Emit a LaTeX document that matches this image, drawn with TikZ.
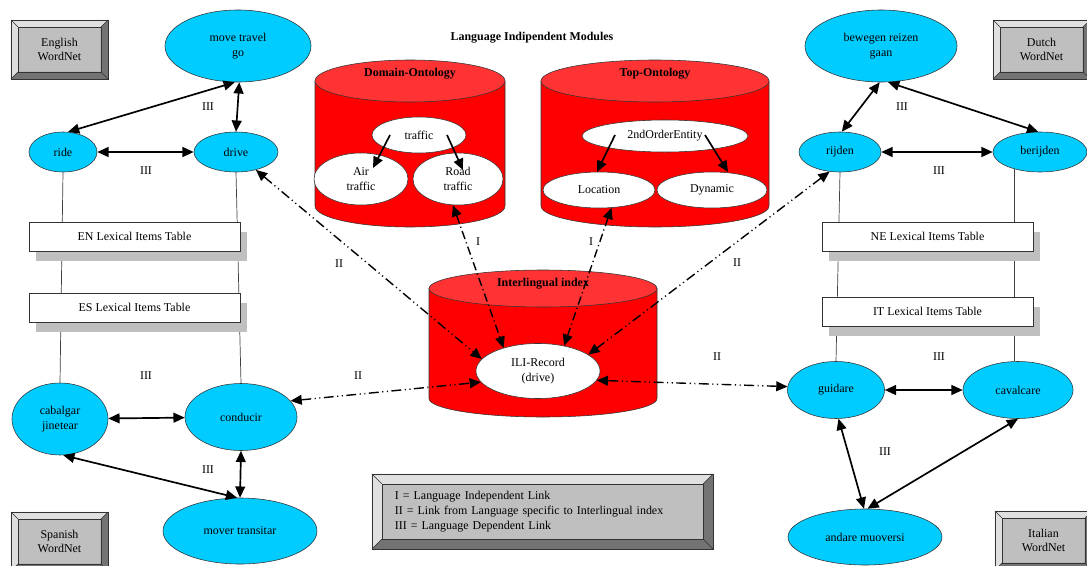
\documentclass[tikz,border=0pt]{standalone}
\usepackage{fontspec}
\setmainfont{Liberation Serif}
\usetikzlibrary{arrows.meta,positioning,calc,shapes.geometric,shadows}

\definecolor{wncyan}{HTML}{00CCFF}
\definecolor{dbred}{HTML}{FF0000}
\definecolor{dbtop}{HTML}{FF3333}

\tikzset{
  synset/.style={ellipse, draw=black!80, fill=wncyan, inner sep=0pt, align=center},
  concept/.style={ellipse, draw=black!80, fill=white, inner sep=0pt, align=center},
  lexitems/.style={rectangle, draw=black!80, fill=white, minimum width=5.275cm, minimum height=0.725cm,
    drop shadow={shadow xshift=0.175cm, shadow yshift=-0.25cm, fill=black!25, opacity=1}},
  bevel/.style={rectangle, draw=black!80, fill=black!25, inner sep=0pt, align=center,
    path picture={
      \path (path picture bounding box.south west) coordinate (bvsw)
            (path picture bounding box.north east) coordinate (bvne)
            (bvsw |- bvne) coordinate (bvnw)
            (bvsw -| bvne) coordinate (bvse);
      \fill[black!12] (bvsw) -- (bvnw) -- (bvne) -- ([shift={(-#1,-#1)}]bvne)
        -- ([shift={(#1,-#1)}]bvnw) -- ([shift={(#1,#1)}]bvsw) -- cycle;
      \fill[black!55] (bvsw) -- (bvse) -- (bvne) -- ([shift={(-#1,-#1)}]bvne)
        -- ([shift={(-#1,#1)}]bvse) -- ([shift={(#1,#1)}]bvsw) -- cycle;
      \draw[black!80] ([shift={(#1,#1)}]bvsw) rectangle ([shift={(-#1,-#1)}]bvne);
      \draw[black!80] (bvsw) -- ++(#1,#1) (bvnw) -- ++(#1,-#1)
        (bvne) -- ++(-#1,-#1) (bvse) -- ++(-#1,#1);
    }},
  bevel/.default=5pt,
  title/.style={font=\fontsize{8.5}{10.5}\selectfont\bfseries},
  deplink/.style={<->, line width=1.2pt},
  isa/.style={->, line width=1.2pt},
  ililink/.style={<->, line width=1pt, dash pattern=on 7pt off 2.5pt on 0.8pt off 2.5pt on 0.8pt off 2.5pt},
  toplink/.style={<->, line width=1pt, dash pattern=on 6pt off 2.5pt on 0.8pt off 2.5pt},
  lexline/.style={black!75, line width=0.5pt}
}

\begin{document}
\begin{tikzpicture}[x=0.025cm, y=-0.025cm, font=\fontsize{8.5}{10.5}\selectfont,
    >={Triangle[length=8pt,width=7pt]}]
\useasboundingbox (0,0) rectangle (1087,566);

% databases
\foreach \cx/\rx/\ty/\ry/\by in {410/95/81/21/206, 655/114/81/21/206, 543/114/288.5/18.5/398.5}{
  \filldraw[fill=dbred, draw=black!80] (\cx-\rx,\ty) -- (\cx-\rx,\by)
    arc [start angle=180, end angle=0, x radius=\rx, y radius=\ry] -- (\cx+\rx,\ty) -- cycle;
  \filldraw[fill=dbtop, draw=black!80] (\cx,\ty) ellipse [x radius=\rx, y radius=\ry];
}
\node[title] (modules) at (532,38) {Language Indipendent Modules};
\node[title] (domain) at (410,74) {Domain-Ontology};
\node[title] (top) at (655,74) {Top-Ontology};
\node[title] (index) at (543,284) {Interlingual index};

% language independent concepts
\node[concept, minimum width=2.35cm, minimum height=1.3cm] (air) at (361,179) {Air\\traffic};
\node[concept, minimum width=2.25cm, minimum height=1.3cm] (road) at (458,179) {Road\\traffic};
\node[concept, minimum width=2.35cm, minimum height=0.9cm] (traffic) at (419,135) {traffic};
\node[concept, minimum width=4.15cm, minimum height=0.8cm] (entity) at (665,136) {2ndOrderEntity};
\node[concept, minimum width=2.8cm, minimum height=0.9cm] (location) at (599,190) {Location};
\node[concept, minimum width=2.75cm, minimum height=0.9cm] (dynamic) at (712,190) {Dynamic};
\node[concept, minimum width=3.1cm, minimum height=1.375cm] (ili) at (538,371) {ILI-Record\\(drive)};

% wordnet synsets
\node[synset, minimum width=3.65cm, minimum height=1.8cm] (move) at (238,46) {move travel\\go};
\node[synset, minimum width=1.7cm, minimum height=1cm] (ride) at (63,152) {ride};
\node[synset, minimum width=2.1cm, minimum height=1cm] (drive) at (236,152) {drive};
\node[synset, minimum width=3.8cm, minimum height=1.8cm] (bewegen) at (881,46) {bewegen reizen\\gaan};
\node[synset, minimum width=2.05cm, minimum height=1cm] (rijden) at (840,152) {rijden};
\node[synset, minimum width=2.35cm, minimum height=1cm] (berijden) at (1040,152) {berijden};
\node[synset, minimum width=2.4cm, minimum height=1.8cm] (cabalgar) at (60,419) {cabalgar\\jinetear};
\node[synset, minimum width=2.8cm, minimum height=1.675cm] (conducir) at (241,417) {conducir};
\node[synset, minimum width=3.85cm, minimum height=1.65cm] (mover) at (240,531) {mover transitar};
\node[synset, minimum width=2.425cm, minimum height=1.425cm] (guidare) at (836,390) {guidare};
\node[synset, minimum width=2.75cm, minimum height=1.425cm] (cavalcare) at (1018,390) {cavalcare};
\node[synset, minimum width=3.85cm, minimum height=1.4cm] (andare) at (865,537) {andare muoversi};

% lexical items tables
\draw[lexline] (ride.south) -- (cabalgar.north);
\draw[lexline] (drive.south) -- (conducir.north);
\draw[lexline] (rijden.south) -- (guidare.north);
\draw[lexline] (berijden.213) -- (berijden.213 |- cavalcare.north);
\node[lexitems] (entable) at (134.5,236.5) {EN Lexical Items Table};
\node[lexitems] (estable) at (134.5,307.5) {ES Lexical Items Table};
\node[lexitems] (netable) at (927.5,236.5) {NE Lexical Items Table};
\node[lexitems] (ittable) at (927.5,311.5) {IT Lexical Items Table};

% wordnets and legend
\node[bevel, minimum width=2.425cm, minimum height=1.475cm] (english) at (59.5,49.5) {English\\WordNet};
\node[bevel, minimum width=2.425cm, minimum height=1.475cm] (dutch) at (1041.5,49.5) {Dutch\\WordNet};
\node[bevel, minimum width=2.425cm, minimum height=1.475cm] (spanish) at (59.5,541.5) {Spanish\\WordNet};
\node[bevel, minimum width=2.425cm, minimum height=1.475cm] (italian) at (1043.5,540.5) {Italian\\WordNet};
\node[bevel=7pt, minimum width=8.525cm, minimum height=1.875cm, text width=7.375cm, align=left] (legend) at (542.5,511.5)
  {I = Language Independent Link\\II = Link from Language specific to Interlingual index\\III = Language Dependent Link};

% language dependent links
\draw[deplink] (move.265) -- (ride.76);
\draw[deplink] (move.272) -- (drive.north);
\draw[deplink] (ride) -- (drive);
\draw[deplink] (bewegen.268) -- (rijden.85);
\draw[deplink] (bewegen.281) -- (berijden.95);
\draw[deplink] (rijden) -- (berijden);
\draw[deplink] (cabalgar) -- (conducir);
\draw[deplink] (cabalgar.275) -- (mover.95);
\draw[deplink] (conducir.south) -- (mover.north);
\draw[deplink] (guidare) -- (cavalcare);
\draw[deplink] (guidare.275) -- (andare.92);
\draw[deplink] (cavalcare.south) -- (andare.85);

% links to the interlingual index
\draw[ililink] (drive.-42) -- (ili.168);
\draw[ililink] (rijden.242) -- (ili.18);
\draw[ililink] (conducir.18) -- (ili.191);
\draw[ililink] (guidare.176) -- (ili.-9);
\draw[toplink] (road.259) -- (ili.146);
\draw[toplink] (location.-55) -- (ili.44);

% ontology hierarchy
\draw[isa] ($(traffic)+(-29,0)$) -- ($(air)+(12,-11)$);
\draw[isa] ($(traffic)+(28,0)$) -- ($(road)+(5,-9)$);
\draw[isa] ($(entity)+(-50,-1)$) -- ($(location)+(-2,-18)$);
\draw[isa] ($(entity)+(40,-1)$) -- ($(dynamic)+(16,-18)$);

% link labels
\foreach \p/\t [count=\k] in {{(208,107)}/III, {(146,171)}/III, {(902,107)}/III, {(939,171)}/III,
    {(146,376)}/III, {(208,470)}/III, {(939,357)}/III, {(885,452)}/III,
    {(339,264)}/II, {(737,263)}/II, {(358,376)}/II, {(717,357)}/II,
    {(478,242)}/I, {(591,242)}/I}
  \node (label\k) at \p {\t};
\end{tikzpicture}
\end{document}
